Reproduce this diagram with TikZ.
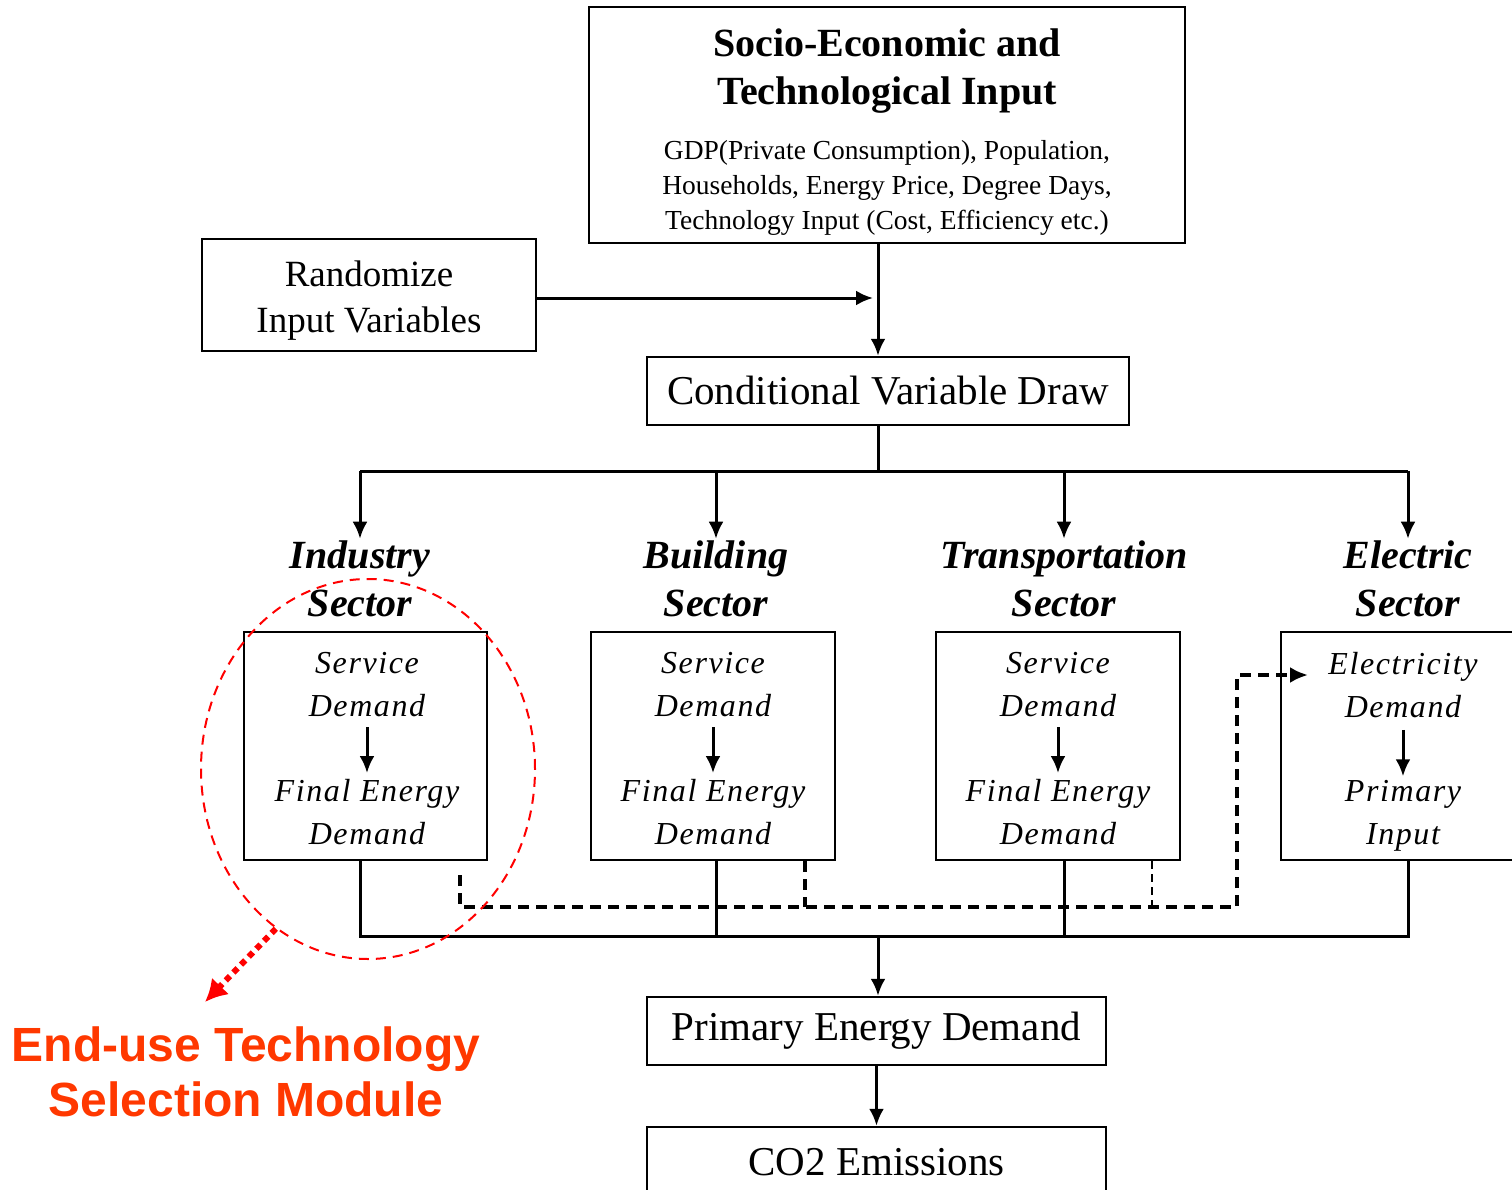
\documentclass[tikz,border=0pt]{standalone}
\usepackage{fontspec}
\setmainfont{Liberation Serif}
\newfontfamily\arialfont{Liberation Sans}
\newfontfamily\spacedfont[LetterSpace=5]{Liberation Serif}
\usepackage{tikz}
\usetikzlibrary{arrows.meta,shapes.geometric}
\definecolor{etsmred}{RGB}{255,56,0}

\begin{document}
\begin{tikzpicture}[x=1pt,y=-1pt,
		box/.style={draw, line width=2.5pt, inner sep=0pt},
		seclbl/.style={font=\bfseries\itshape\fontsize{40}{48}\selectfont, align=center, inner sep=2pt},
		intext/.style={font=\spacedfont\itshape\fontsize{32}{43}\selectfont, align=center, inner sep=0pt},
		conn/.style={line width=3pt},
		arr/.style={conn, -{Latex[length=17pt,width=15pt]}},
		dsh/.style={line width=3.5pt, dash pattern=on 11pt off 7pt}]
				\clip (0,0) rectangle (1512,1190);
				\node[box, minimum width=596pt, minimum height=236pt] (socio) at (887,125) {};
				\node[font=\bfseries\fontsize{40}{48}\selectfont, align=center, inner sep=0pt] (sociottl) at (887,71) {Socio-Economic and\\Technological Input};
				\node[font=\fontsize{27.5}{35}\selectfont, align=center, inner sep=0pt] (sociotxt) at (887,188) {GDP(Private Consumption), Population,\\Households, Energy Price, Degree Days,\\Technology Input (Cost, Efficiency etc.)};
				\node[box, minimum width=334pt, minimum height=112pt] (rand) at (369,295) {};
				\node[font=\fontsize{37}{46}\selectfont, align=center, inner sep=0pt] (randtxt) at (369,301) {Randomize\\Input Variables};
				\node[box, minimum width=482pt, minimum height=68pt, font=\fontsize{41}{46}\selectfont] (cond) at (888,391) {Conditional Variable Draw};
				\coordinate (trunk) at (878,298);
				\coordinate (topbus) at (878,471);
				\coordinate (busl) at (360,936);
				\node[seclbl] (indlbl) at (360,579) {Industry\\Sector};
				\node[seclbl] (bldlbl) at (716,579) {Building\\Sector};
				\node[seclbl] (trnlbl) at (1064,579) {Transportation\\Sector};
				\node[seclbl] (elelbl) at (1408,579) {Electric\\Sector};
				\node[box, minimum width=243pt, minimum height=228pt] (ind) at (365.5,746) {};
				\node[box, minimum width=244pt, minimum height=228pt] (bld) at (713,746) {};
				\node[box, minimum width=244pt, minimum height=228pt] (trn) at (1058,746) {};
				\node[box, minimum width=244pt, minimum height=228pt] (ele) at (1403,746) {};
				\node[intext] (indsd) at (367,685) {Service\\Demand};
				\node[intext] (indfe) at (367,812) {Final Energy\\Demand};
				\node[intext] (bldsd) at (713,685) {Service\\Demand};
				\node[intext] (bldfe) at (713,812) {Final Energy\\Demand};
				\node[intext] (trnsd) at (1058,685) {Service\\Demand};
				\node[intext] (trnfe) at (1058,812) {Final Energy\\Demand};
				\node[intext] (elesd) at (1403,685) {Electricity\\Demand};
				\node[intext] (elepi) at (1403,816) {Primary\\Input};
				\draw[arr, shorten <=10pt, shorten >=6pt] (indsd) -- (indfe);
				\draw[arr, shorten <=10pt, shorten >=6pt] (bldsd) -- (bldfe);
				\draw[arr, shorten <=10pt, shorten >=6pt] (trnsd) -- (trnfe);
				\draw[arr, shorten <=12pt, shorten >=4pt] (elesd) -- (elepi);
				\draw[arr] (trunk |- socio.south) -- (trunk |- cond.north);
				\draw[arr, shorten >=5pt] (rand.east |- trunk) -- (trunk);
				\draw[conn] (trunk |- cond.south) -- (topbus);
				\draw[conn] (indlbl |- topbus) -- (elelbl |- topbus);
				\foreach \s in {indlbl,bldlbl,trnlbl,elelbl}
					\draw[arr] (\s |- topbus) -- (\s.north);
				\draw[conn] (indlbl |- ind.south) -- (busl) -- (elelbl |- busl) -- (elelbl |- ele.south);
				\draw[conn] (bldlbl |- bld.south) -- (bldlbl |- busl);
				\draw[conn] (trnlbl |- trn.south) -- (trnlbl |- busl);
				\node[box, minimum width=459pt, minimum height=68pt, font=\fontsize{41}{46}\selectfont] (ped) at (876.5,1031) {Primary Energy Demand};
				\node[box, minimum width=459pt, minimum height=70pt, font=\fontsize{41}{46}\selectfont] (co2) at (876.5,1162) {CO2 Emissions};
				\draw[arr] (trunk |- busl) -- (trunk |- ped.north);
				\draw[arr] (ped) -- (co2);
				\coordinate (d1) at (460,875);
				\coordinate (d2) at (1237,907);
				\coordinate (d3) at (1308,675);
				\coordinate (d4) at (805,907);
				\coordinate (d5) at (1152,907);
				\draw[dsh, -{Latex[length=18pt,width=16pt]}] (d1) -- (d1 |- d2) -- (d2) -- (d2 |- d3) -- (d3);
				\draw[dsh] (d4 |- bld.south) -- (d4);
				\draw[dsh, line width=2pt, dash pattern=on 8pt off 5pt] (d5 |- trn.south) -- (d5);
				\node[draw=red, line width=2pt, dash pattern=on 10pt off 7pt, ellipse, minimum width=334pt, minimum height=380pt, inner sep=0pt] (etsm) at (368,769) {};
				\coordinate (etsmtip) at (205,1002);
				\draw[red, line width=6pt, dash pattern=on 6pt off 5pt, -{Latex[length=22pt,width=24pt]}] (etsm.240) -- (etsmtip);
				\node[font=\arialfont\bfseries\fontsize{48}{55}\selectfont, text=etsmred, align=center] (etsmlbl) at (246,1072) {End-use Technology\\Selection Module};
			\end{tikzpicture}
\end{document}
